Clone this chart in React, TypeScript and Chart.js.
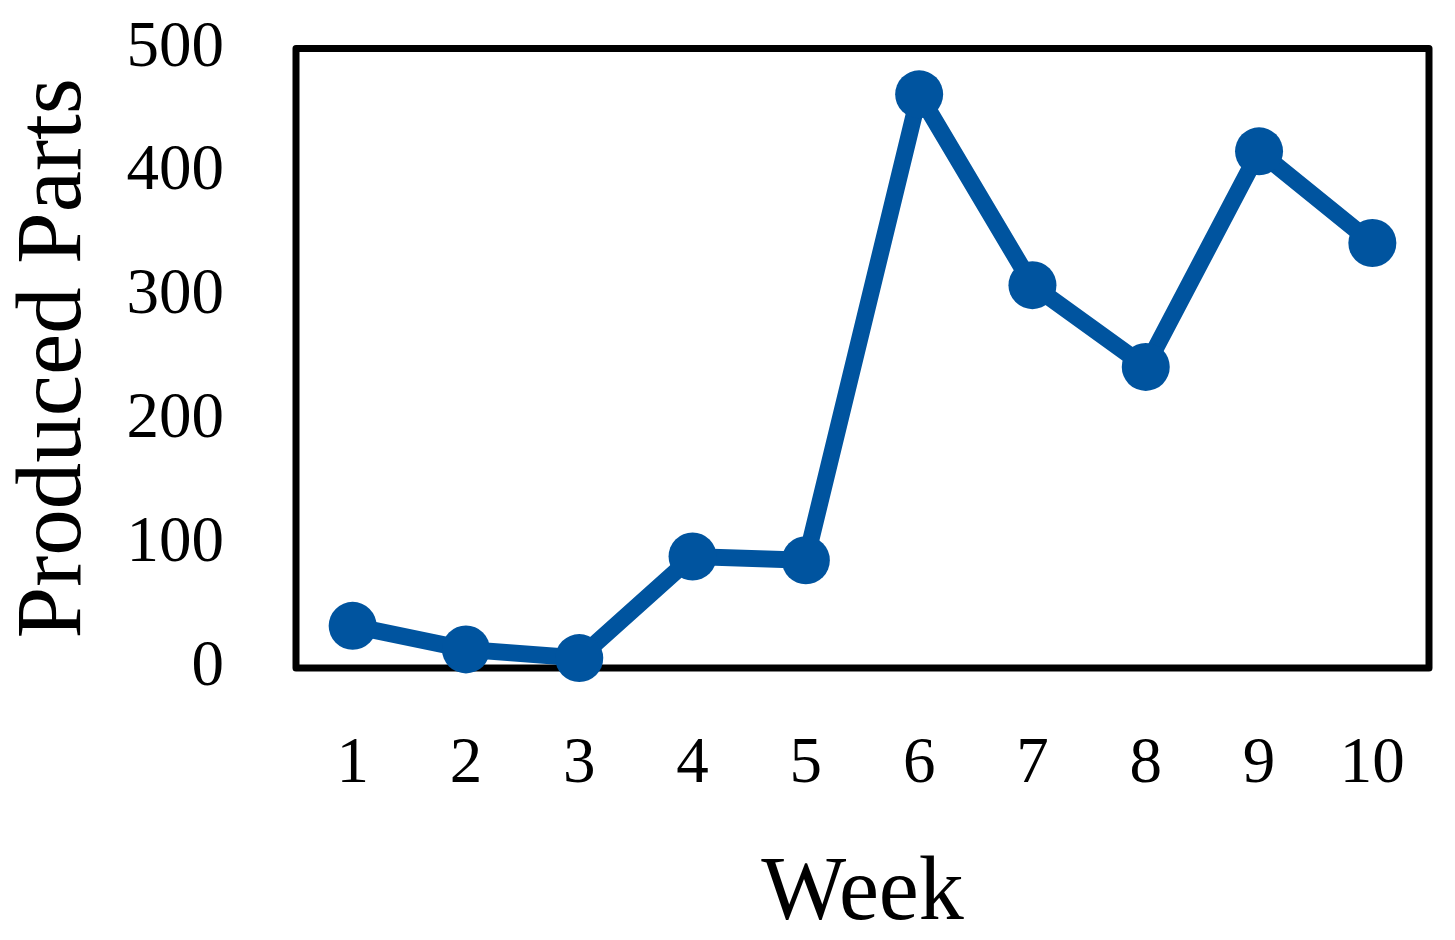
import React, { useEffect, useRef } from "react";
import { Chart, registerables } from "chart.js";

Chart.register(...registerables);

const weeks = ["1", "2", "3", "4", "5", "6", "7", "8", "9", "10"];
const producedParts = [34, 15, 8, 90, 87, 463, 309, 243, 417, 343];
const yTicks = [0, 100, 200, 300, 400, 500];

const FONT = "'Liberation Serif', 'Times New Roman', serif";
const BLUE = "#00549F";

const frame = {
  id: "frame",
  beforeDatasetsDraw(chart: any) {
    const { ctx, chartArea } = chart;
    ctx.save();
    ctx.strokeStyle = "#000";
    ctx.lineWidth = 7;
    ctx.lineJoin = "round";
    ctx.strokeRect(
      chartArea.left,
      chartArea.top,
      chartArea.right - chartArea.left,
      chartArea.bottom - chartArea.top
    );
    ctx.restore();
  },
};

function noPad(scale: any) {
  scale.paddingTop = 0;
  scale.paddingBottom = 0;
  scale.paddingLeft = 0;
  scale.paddingRight = 0;
}

export default function App() {
  const ref = useRef<HTMLCanvasElement | null>(null);
  useEffect(() => {
    if (!ref.current) return;
    const chart = new Chart(ref.current, {
      type: "line",
      data: {
        labels: weeks,
        datasets: [
          {
            data: producedParts,
            borderColor: BLUE,
            backgroundColor: BLUE,
            borderWidth: 17,
            pointRadius: 24,
            pointBackgroundColor: BLUE,
            pointBorderWidth: 0,
            tension: 0,
            clip: false as any,
          },
        ],
      },
      options: {
        animation: false,
        responsive: true,
        maintainAspectRatio: false,
        layout: { padding: { top: 48.5, right: 26, left: 0, bottom: 0 } },
        plugins: { legend: { display: false }, tooltip: { enabled: false } },
        scales: {
          x: {
            type: "category",
            offset: true,
            grid: { display: false, drawTicks: false },
            border: { display: false },
            ticks: {
              color: "#000",
              font: { family: FONT, size: 65 },
              padding: 58,
              maxRotation: 0,
            },
            title: {
              display: true,
              text: "Week",
              color: "#000",
              font: { family: FONT, size: 90, lineHeight: 1.0 },
              padding: { top: 0, bottom: 0 },
            },
            afterFit(scale: any) {
              scale.height = 272;
              noPad(scale);
            },
          },
          y: {
            min: 0,
            max: 500,
            afterBuildTicks(scale: any) {
              scale.ticks = yTicks.map((v) => ({ value: v }));
            },
            grid: { display: false, drawTicks: false },
            border: { display: false },
            ticks: {
              color: "#000",
              font: { family: FONT, size: 65 },
              padding: 72,
            },
            title: {
              display: true,
              text: "Produced Parts",
              color: "#000",
              font: { family: FONT, size: 93, lineHeight: 1.2 },
              padding: { top: 0, bottom: 0 },
            },
            afterFit(scale: any) {
              scale.width = 296;
              noPad(scale);
            },
          },
        },
      },
      plugins: [frame],
    });
    return () => chart.destroy();
  }, []);
  return (
    <div
      style={{
        position: "absolute",
        left: 0,
        top: 0,
        width: 1455,
        height: 940,
        background: "#fff",
      }}
    >
      <canvas ref={ref} />
    </div>
  );
}
